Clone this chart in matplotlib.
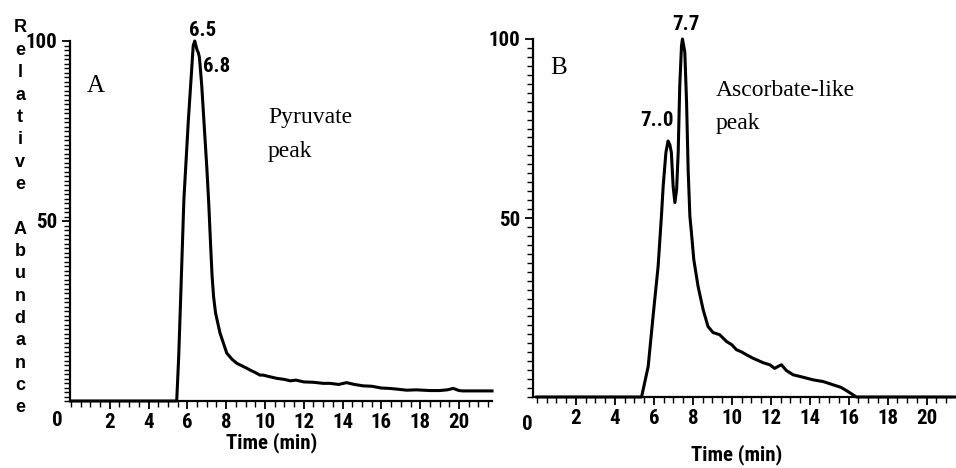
import matplotlib
matplotlib.use("Agg")
import matplotlib.pyplot as plt
from matplotlib.ticker import MultipleLocator, FixedLocator
from matplotlib import font_manager as fm

# ---------------- data ----------------
time_a = [0.0, 5.45, 5.55, 5.65, 5.82, 6.05, 6.22, 6.30, 6.38, 6.50, 6.56, 6.62, 6.74, 6.90,
          7.0, 7.1, 7.2, 7.27, 7.35, 7.45, 7.68, 8.03, 8.30, 8.54, 8.80, 9.06, 9.23, 9.50, 9.74,
          9.90, 10.2, 10.6, 11.0, 11.3, 11.6, 12.0, 12.5, 13.0, 13.35, 13.8, 14.2, 14.6,
          15.07, 15.5, 16.0, 16.4, 16.8, 17.3, 17.8, 18.5, 19.0, 19.4, 19.7, 20.0, 20.2,
          20.8, 21.7]
abund_a = [0.0, 0.0, 12.0, 28.0, 56.0, 78.0, 92.0, 98.7, 100.0, 97.5, 96.8, 95.5, 87.6, 73.6,
           65.0, 55.0, 43.0, 35.0, 29.0, 24.5, 18.9, 13.3, 11.6, 10.5, 9.8, 9.1, 8.6, 7.9, 7.2,
           7.2, 6.8, 6.3, 6.0, 5.6, 5.8, 5.3, 5.2, 4.9, 4.9, 4.6, 5.1, 4.6,
           4.2, 4.1, 3.6, 3.5, 3.3, 3.0, 3.1, 2.9, 2.9, 3.1, 3.5, 2.9, 2.8,
           2.8, 2.8]

time_b = [0.0, 5.37, 5.71, 5.96, 6.22, 6.39, 6.48, 6.62, 6.73, 6.82, 6.90, 6.99, 7.08,
          7.17, 7.25, 7.33, 7.42, 7.47, 7.59, 7.68, 7.76, 7.85, 7.93, 8.05, 8.27, 8.53,
          8.78, 9.04, 9.38, 9.73, 10.0, 10.24, 10.5, 10.75, 11.1, 11.27, 11.6, 11.95,
          12.2, 12.4, 12.55, 12.8, 13.15, 13.6, 14.17, 14.7, 15.2, 15.6, 15.88, 16.4,
          21.5]
abund_b = [0.0, 0.0, 8.5, 22.5, 36.5, 50.5, 58.9, 68.3, 71.5, 70.5, 68.3, 58.9, 54.3,
           58.0, 68.3, 86.9, 98.1, 100.0, 96.3, 82.3, 63.6, 50.5, 45.9, 38.4, 30.9, 24.4,
           19.7, 18.0, 17.4, 15.5, 14.6, 13.2, 12.6, 11.8, 10.8, 10.4, 9.6, 9.0,
           8.0, 8.6, 9.0, 7.4, 6.2, 5.6, 4.8, 4.3, 3.4, 2.7, 1.8, 0.0,
           0.0]

x_ticks = [2, 4, 6, 8, 10, 12, 14, 16, 18, 20]
y_ticks = [50, 100]
ylabel_text = "Relative Abundance"

# ---------------- fonts ----------------
avail = {f.name for f in fm.fontManager.ttflist}
narrow = None
for cand in ["Liberation Sans Narrow", "Arial Narrow", "Roboto Condensed",
             "DejaVu Sans Condensed", "Open Sans Condensed"]:
    if cand in avail:
        narrow = cand
        break
if narrow is None:
    narrow = "Liberation Sans"
    num_size, lab_size = 13, 12.5
else:
    num_size, lab_size = 15, 15
serif = "Liberation Serif"

W, H = 956, 468
fig = plt.figure(figsize=(W / 100, H / 100), dpi=100)


def px_rect(left, top, right, bottom):
    return [left / W, 1 - bottom / H, (right - left) / W, (bottom - top) / H]


def style_axes(ax, xlim, ytick_minor):
    ax.set_xlim(*xlim)
    ax.set_ylim(0, 100)
    for s in ("top", "right"):
        ax.spines[s].set_visible(False)
    for s in ("left", "bottom"):
        ax.spines[s].set_linewidth(1.6)
    ax.xaxis.set_major_locator(FixedLocator(x_ticks))
    ax.xaxis.set_minor_locator(MultipleLocator(0.5))
    ax.yaxis.set_major_locator(FixedLocator(y_ticks))
    ax.yaxis.set_minor_locator(MultipleLocator(ytick_minor))
    ax.set_xticklabels([str(v) for v in x_ticks])
    ax.set_yticklabels([str(v) for v in y_ticks])
    ax.tick_params(axis="both", which="major", direction="out", length=6, width=1.3,
                   labelsize=num_size, pad=3)
    ax.tick_params(axis="both", which="minor", direction="out", length=4, width=1.0)
    for lab in ax.get_xticklabels() + ax.get_yticklabels():
        lab.set_fontfamily(narrow)
        lab.set_fontweight("bold")


# Panel A
axA = fig.add_axes(px_rect(70, 41, 492, 401))
axA.plot(time_a, abund_a, color="black", lw=2.2, clip_on=False, solid_joinstyle="round")
style_axes(axA, (-0.05, 21.7), 1.25)

# Panel B
axB = fig.add_axes(px_rect(533, 39, 952, 397))
axB.plot(time_b, abund_b, color="black", lw=2.2, clip_on=False, solid_joinstyle="round")
style_axes(axB, (-0.2, 21.3), 2.5)


def ftext(x, y, s, **kw):
    fig.text(x / W, 1 - y / H, s, **kw)


# origin "0" labels
ftext(57, 420, "0", ha="center", va="center", fontsize=num_size, family=narrow, weight="bold")
ftext(527, 425, "0", ha="center", va="center", fontsize=num_size, family=narrow, weight="bold")

# x labels
ftext(272, 443, "Time (min)", ha="center", va="center", fontsize=lab_size, family=narrow, weight="bold")
ftext(737, 455, "Time (min)", ha="center", va="center", fontsize=lab_size, family=narrow, weight="bold")

# stacked y label
n = len(ylabel_text)
for i, ch in enumerate(ylabel_text):
    y = 28 + i * (408 - 28) / (n - 1)
    ftext(20, y, ch, ha="center", va="center", fontsize=13, family="Liberation Sans", weight="bold")

# panel letters and annotations
ftext(96, 86, "A", ha="center", va="center", fontsize=18, family=serif)
ftext(268, 118, "Pyruvate", ha="left", va="center", fontsize=17, family=serif)
ftext(268, 152, "peak", ha="left", va="center", fontsize=17, family=serif)
ftext(203, 30, "6.5", ha="center", va="center", fontsize=num_size, family=narrow, weight="bold")
ftext(217, 67, "6.8", ha="center", va="center", fontsize=num_size, family=narrow, weight="bold")

ftext(559, 68, "B", ha="center", va="center", fontsize=18, family=serif)
ftext(716, 90, "Ascorbate-like", ha="left", va="center", fontsize=17, family=serif)
ftext(716, 123, "peak", ha="left", va="center", fontsize=17, family=serif)
ftext(686, 25, "7.7", ha="center", va="center", fontsize=num_size, family=narrow, weight="bold")
ftext(657, 120, "7..0", ha="center", va="center", fontsize=num_size, family=narrow, weight="bold")

fig.savefig("out.png", dpi=100, facecolor="white")
